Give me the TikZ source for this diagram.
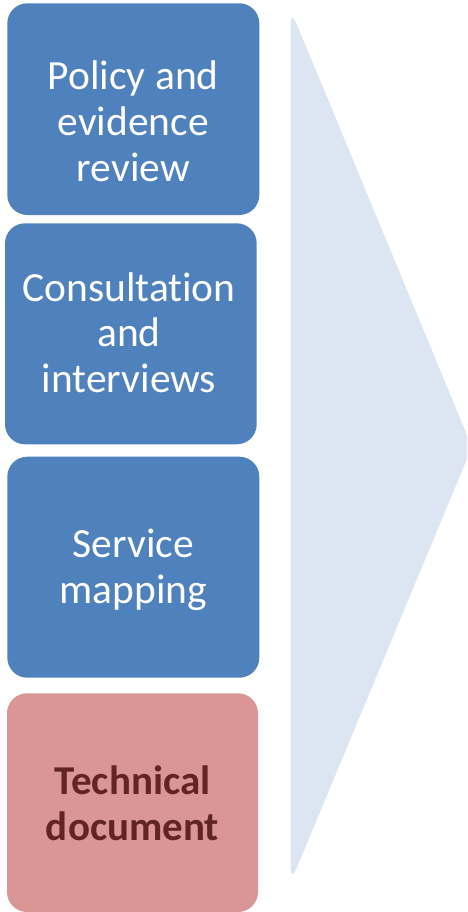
\documentclass[tikz,border=0pt]{standalone}
\usepackage{fontspec}
\setmainfont[RawFeature=-liga]{Carlito}
\definecolor{boxblue}{HTML}{4F81BD}
\definecolor{boxpink}{HTML}{D99694}
\definecolor{txtred}{HTML}{632523}
\definecolor{arrowfill}{HTML}{DCE6F2}
\begin{document}
\begin{tikzpicture}[x=1pt,y=-1pt,
  stepbox/.style={rectangle, rounded corners=20pt, inner sep=0pt, draw=none},
  bluebox/.style={stepbox, fill=boxblue},
  pinkbox/.style={stepbox, fill=boxpink},
  linetxt/.style={anchor=base, inner sep=0pt, text=white, font=\fontsize{41.5}{45.5}\selectfont},
  boldtxt/.style={anchor=base, inner sep=0pt, text=txtred, font=\fontsize{41}{45.5}\selectfont\bfseries}]
\useasboundingbox (0,0) rectangle (467,912);
\clip (0,0) rectangle (467,912);
% big arrow
\fill[arrowfill, rounded corners=16pt] (290.5,9) -- (472,447) -- (290.5,883) -- cycle;
% boxes
\node[bluebox, minimum width=252pt, minimum height=211.7pt] (b1) at (133.3,109.15) {};
\node[bluebox, minimum width=251.7pt, minimum height=221pt] (b2) at (130.85,333.8) {};
\node[bluebox, minimum width=252pt, minimum height=221pt] (b3) at (133.3,567.2) {};
\node[pinkbox, minimum width=251pt, minimum height=218.7pt] (b4) at (132.5,802.65) {};
% texts
\node[linetxt] (t1a) at (133.3,90) {Policy and};
\node[linetxt] (t1b) at (133.3,136) {evidence};
\node[linetxt] (t1c) at (133.3,182) {review};
\node[linetxt] (t2a) at (129,301) {Consultation};
\node[linetxt] (t2b) at (129,346.5) {and};
\node[linetxt] (t2c) at (129,392) {interviews};
\node[linetxt] (t3a) at (133.3,557.3) {Service};
\node[linetxt] (t3b) at (133.3,603.3) {mapping};
\node[boldtxt] (t4a) at (132.5,794) {Technical};
\node[boldtxt] (t4b) at (132.5,840) {document};
\end{tikzpicture}
\end{document}
